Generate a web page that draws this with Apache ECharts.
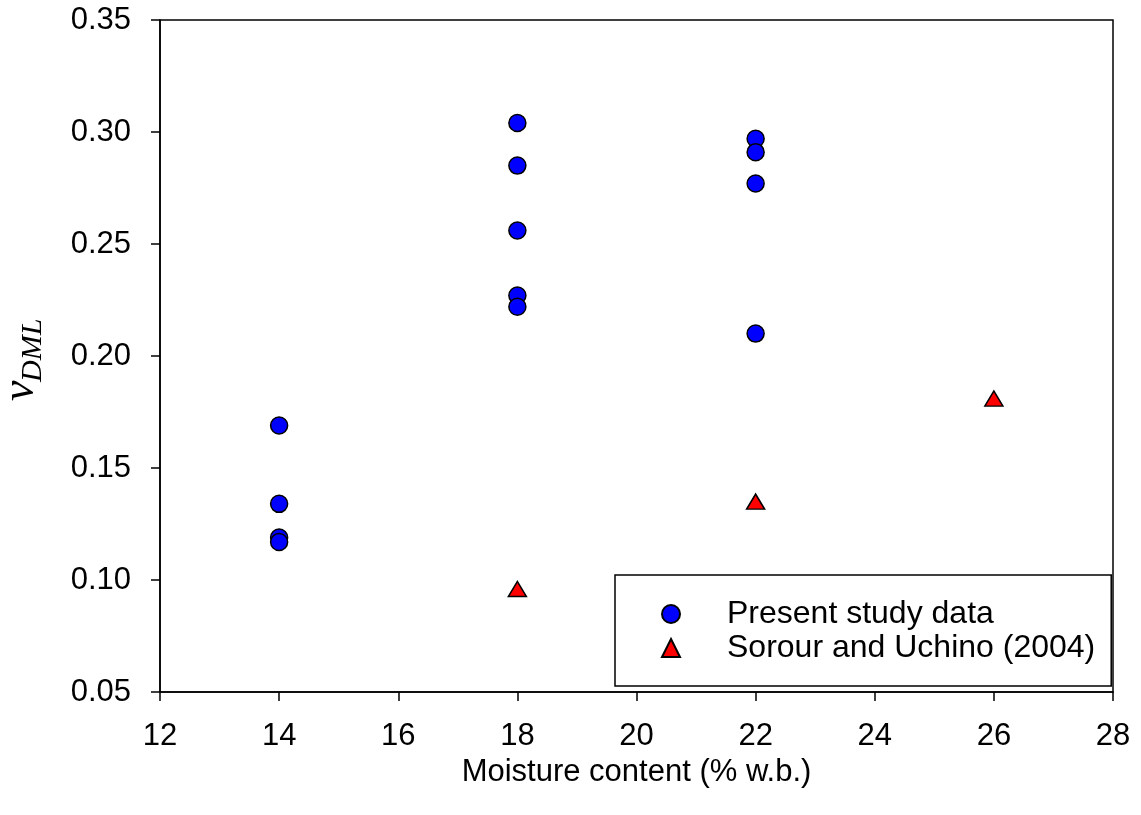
<!DOCTYPE html>
<html>
<head>
<meta charset="utf-8">
<script src="https://cdn.jsdelivr.net/npm/echarts@6/dist/echarts.min.js"></script>
<style>
html, body { margin: 0; padding: 0; background: #fff; }
#main { width: 1141px; height: 815px; }
</style>
</head>
<body>
<div id="main"></div>
<script>
// present study data
let studyX = [14, 14, 14, 14, 18, 18, 18, 18, 18, 22, 22, 22, 22]
let studyY = [0.169, 0.134, 0.119, 0.117, 0.304, 0.285, 0.256, 0.227, 0.222, 0.297, 0.291, 0.277, 0.210]
// Sorour and Uchino (2004)
let sorourX = [18, 22, 26]
let sorourY = [0.096, 0.135, 0.181]

let seriesNames = ["Present study data", "Sorour and Uchino (2004)"]

function pairs(xs, ys) {
    return xs.map((x, i) => [x, ys[i]])
}

var myChart = echarts.init(document.getElementById('main'))

var font = 'Liberation Sans, Arial, sans-serif'
var serif = 'Liberation Serif, serif'

var option = {
    animation: false,
    backgroundColor: '#fff',
    grid: {
        left: 160,
        right: 28,
        top: 20,
        bottom: 123,
        show: true,
        borderColor: '#000',
        borderWidth: 1.5
    },
    xAxis: {
        type: 'value',
        min: 12,
        max: 28,
        interval: 2,
        name: 'Moisture content (% w.b.)',
        nameLocation: 'middle',
        nameGap: 65,
        nameTextStyle: { fontFamily: font, fontSize: 31, color: '#000' },
        axisLine: { lineStyle: { color: '#000', width: 1.5 } },
        axisTick: { show: true, length: 9, lineStyle: { color: '#000', width: 1.5 } },
        axisLabel: { fontFamily: font, fontSize: 31, color: '#000', margin: 29 },
        splitLine: { show: false }
    },
    yAxis: {
        type: 'value',
        min: 0.05,
        max: 0.35,
        interval: 0.05,
        axisLine: { show: true, lineStyle: { color: '#000', width: 1.5 } },
        axisTick: { show: true, length: 9, lineStyle: { color: '#000', width: 1.5 } },
        axisLabel: {
            fontFamily: font, fontSize: 31, color: '#000', margin: 29,
            formatter: v => v.toFixed(2)
        },
        splitLine: { show: false }
    },
    legend: {
        orient: 'vertical',
        left: 615,
        top: 575,
        padding: [22, 16, 21, 46],
        itemGap: 0,
        itemWidth: 18,
        itemHeight: 18,
        borderColor: '#000',
        borderWidth: 1.5,
        textStyle: { fontFamily: font, fontSize: 32, lineHeight: 34, color: '#000', padding: [0, 0, 0, 42] },
        data: seriesNames
    },
    graphic: [
        {
            type: 'text',
            x: 21,
            y: 401,
            rotation: Math.PI / 2,
            style: {
                text: 'v',
                fontFamily: serif, fontStyle: 'italic', fontSize: 46, fill: '#000',
                align: 'left', verticalAlign: 'middle'
            }
        },
        {
            type: 'text',
            x: 33,
            y: 382,
            rotation: Math.PI / 2,
            style: {
                text: 'DML',
                fontFamily: serif, fontStyle: 'italic', fontSize: 30, fill: '#000',
                align: 'left', verticalAlign: 'middle'
            }
        }
    ],
    series: [
        {
            name: seriesNames[0],
            type: 'scatter',
            symbol: 'circle',
            symbolSize: 17,
            itemStyle: { color: '#0000ff', borderColor: '#000', borderWidth: 1.5, opacity: 1 },
            data: pairs(studyX, studyY)
        },
        {
            name: seriesNames[1],
            type: 'scatter',
            symbol: 'triangle',
            symbolSize: [18, 15],
            itemStyle: { color: '#ff0000', borderColor: '#000', borderWidth: 1.5, opacity: 1 },
            data: pairs(sorourX, sorourY)
        }
    ]
}

myChart.setOption(option)
</script>
</body>
</html>
